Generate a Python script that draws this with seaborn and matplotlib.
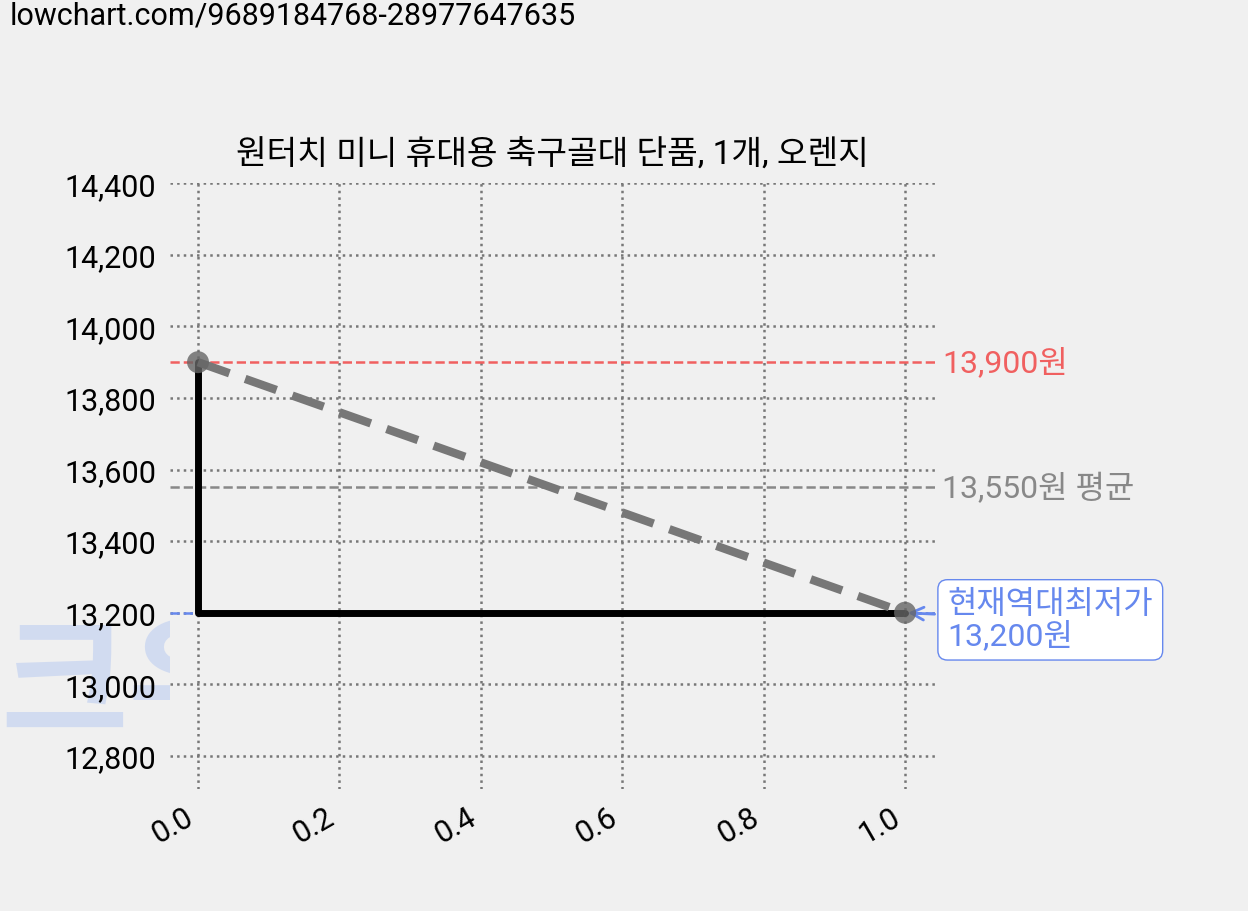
import matplotlib
matplotlib.use("Agg")
import matplotlib.pyplot as plt
import seaborn as sns
import pandas as pd

# price history
x_vals = [0.0, 1.0]
prices = [13900, 13200]
max_price = 13900
avg_price = 13550
min_price = 13200
title = "원터치 미니 휴대용 축구골대 단품, 1개, 오렌지"
url = "lowchart.com/9689184768-28977647635"
y_ticks = [12800, 13000, 13200, 13400, 13600, 13800, 14000, 14200, 14400]
x_ticks = [0.0, 0.2, 0.4, 0.6, 0.8, 1.0]

sns.set_theme(style="white")
plt.rcParams['font.family'] = ['Roboto', 'Noto Sans CJK KR', 'DejaVu Sans']
plt.rcParams['text.color'] = 'black'
bg = "#f0f0f0"

fig = plt.figure(figsize=(12.48, 9.12), dpi=100, facecolor=bg)
ax = fig.add_axes([0.136, 0.134, 0.613, 0.664], facecolor=bg)

df = pd.DataFrame({"x": x_vals, "price": prices})

# watermark
fig.text(0.0, 0.245, "크우차트", fontsize=100, color="#c5d3f0", alpha=0.7,
         fontweight="bold", family=['Noto Sans CJK KR'], va="center", zorder=-1)

ax.plot(df["x"], df["price"], drawstyle="steps-pre", color="black", lw=5, zorder=3)
sns.lineplot(data=df, x="x", y="price", ax=ax, color="#777777", lw=6,
             linestyle=(0, (4, 2)), zorder=4)
sns.scatterplot(data=df, x="x", y="price", ax=ax, color="#666666", s=250,
                alpha=0.8, edgecolor="none", zorder=5)

ax.axhline(max_price, color="#f06060", ls="--", lw=1.8, zorder=2)
ax.axhline(avg_price, color="#888888", ls="--", lw=1.8, zorder=2)
ax.axhline(min_price, color="#6688ee", ls="--", lw=1.8, zorder=2)

ax.text(1.01, max_price, f"{max_price:,}원", color="#f06060", fontsize=23, va="center",
        transform=ax.get_yaxis_transform())
ax.text(1.01, avg_price, f"{avg_price:,}원 평균", color="#888888", fontsize=23, va="center",
        transform=ax.get_yaxis_transform())
ax.annotate(f"현재역대최저가\n{min_price:,}원", xy=(1.0, min_price), xytext=(1.06, min_price - 20),
            color="#6688ee", fontsize=23, va="center", linespacing=1.05,
            bbox=dict(boxstyle="round,pad=0.3", fc="white", ec="#6688ee"),
            arrowprops=dict(arrowstyle="->", color="#6688ee", lw=2))

ax.set_xlim(-0.04, 1.042)
ax.set_ylim(12708, 14400)
ax.set_yticks(y_ticks)
ax.set_yticklabels([f"{v:,}" for v in y_ticks], fontsize=22, color="black")
ax.set_xticks(x_ticks)
ax.set_xticklabels([f"{v:.1f}" for v in x_ticks], fontsize=22, rotation=30, ha="right",
                   color="black")
ax.grid(True, color="#777777", ls=":", lw=1.8)
for s in ax.spines.values():
    s.set_visible(False)
ax.set_xlabel("")
ax.set_ylabel("")
ax.set_title(title, fontsize=24, pad=14, color="black")
fig.text(0.008, 0.982, url, fontsize=22, va="center")

fig.savefig("out.png", dpi=100, facecolor=bg)
